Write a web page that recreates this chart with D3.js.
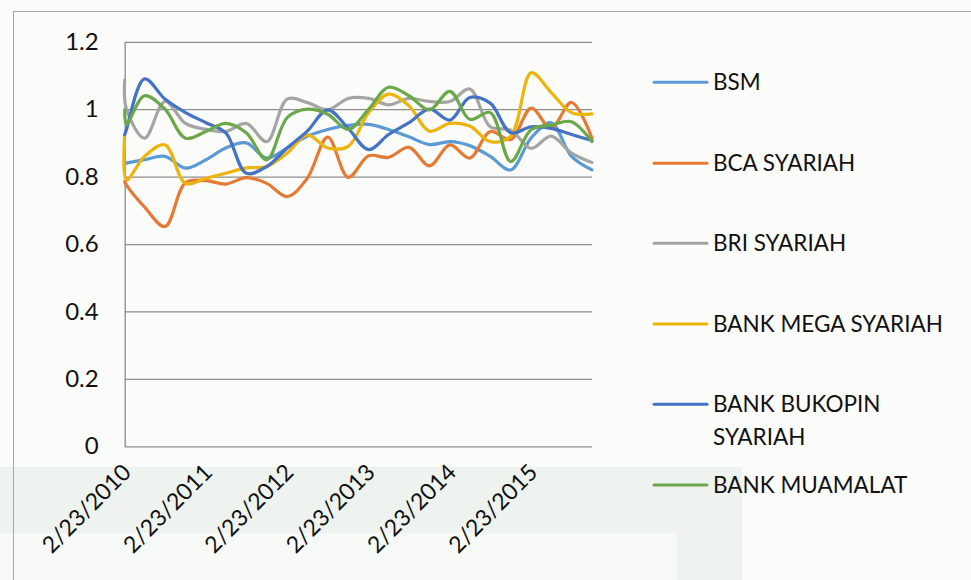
<!DOCTYPE html>
<html>
<head>
<meta charset="utf-8">
<script src="https://cdnjs.cloudflare.com/ajax/libs/d3/7.8.5/d3.min.js"></script>
<style>
  body { margin: 0; background: #fcfcfb; }
  svg { display: block; font-family: Lato, "Open Sans", sans-serif; }
  .tick text { fill: #111; }
</style>
</head>
<body>
<svg id="chart" width="971" height="580"></svg>
<script>
// quarterly observations (second point sits just after the first one)
var dates = ["2010-02-23","2010-03-03","2010-05-23","2010-08-23","2010-11-23",
  "2011-02-23","2011-05-23","2011-08-23","2011-11-23",
  "2012-02-23","2012-05-23","2012-08-23","2012-11-23",
  "2013-02-23","2013-05-23","2013-08-23","2013-11-23",
  "2014-02-23","2014-05-23","2014-08-23","2014-11-23",
  "2015-02-23","2015-05-23","2015-08-23","2015-11-23"];

var bsm      = [0.838,0.84,0.85,0.86,0.825,0.85,0.885,0.9,0.855,0.885,0.92,0.94,0.952,0.955,0.94,0.918,0.895,0.904,0.892,0.86,0.82,0.915,0.96,0.86,0.82];
var bca      = [0.785,0.775,0.71,0.652,0.782,0.788,0.778,0.797,0.78,0.741,0.795,0.917,0.798,0.862,0.857,0.887,0.832,0.894,0.855,0.934,0.91,1.003,0.944,1.02,0.914];
var bri      = [1.087,1.0,0.914,1.023,0.958,0.94,0.934,0.958,0.904,1.03,1.02,0.998,1.032,1.032,1.013,1.032,1.023,1.023,1.06,0.948,0.938,0.884,0.92,0.87,0.842];
var mega     = [0.924,0.79,0.86,0.894,0.78,0.795,0.81,0.826,0.83,0.87,0.924,0.885,0.89,0.99,1.045,1.01,0.935,0.958,0.95,0.904,0.92,1.108,1.05,0.99,0.986];
var bukopin  = [0.924,0.94,1.09,1.03,0.99,0.96,0.93,0.81,0.83,0.885,0.935,0.998,0.943,0.88,0.925,0.96,1.0,0.968,1.035,1.018,0.93,0.948,0.943,0.925,0.907];
var muamalat = [0.998,0.955,1.04,1.0,0.914,0.934,0.958,0.93,0.85,0.975,1.0,0.985,0.94,1.0,1.065,1.04,0.998,1.053,0.97,0.99,0.845,0.94,0.953,0.963,0.904];

var seriesNames  = ["BSM","BCA SYARIAH","BRI SYARIAH","BANK MEGA SYARIAH","BANK BUKOPIN SYARIAH","BANK MUAMALAT"];
var seriesValues = [bsm, bca, bri, mega, bukopin, muamalat];
var seriesColors = ["#5B9BD5","#E57A35","#A5A5A5","#EDB40C","#4472C4","#6AA84A"];
var yTicks = [0, 0.2, 0.4, 0.6, 0.8, 1, 1.2];
var xTickLabels = ["2010-02-23","2011-02-23","2012-02-23","2013-02-23","2014-02-23","2015-02-23"];

var parse = d3.timeParse("%Y-%m-%d");
var svg = d3.select("#chart");

// faint page watermark band + chart frame
svg.append("rect").attr("x", 0).attr("y", 467).attr("width", 742).attr("height", 113).attr("fill", "#eff3f0");
svg.append("rect").attr("x", 0).attr("y", 533).attr("width", 677).attr("height", 47).attr("fill", "#f8faf8");
svg.append("rect").attr("x", 13.5).attr("y", 11.5).attr("width", 1000).attr("height", 600)
  .attr("fill", "none").attr("stroke", "#a6a6a6").attr("stroke-width", 1);

var x = d3.scaleTime()
  .domain([parse(dates[0]), parse(dates[dates.length - 1])])
  .range([124.7, 592]);
var y = d3.scaleLinear().domain([0, 1.2]).range([446.3, 41.8]);

// gridlines
svg.append("g")
  .attr("transform", "translate(124.7,0)")
  .call(d3.axisRight(y).tickValues(yTicks).tickSize(592 - 124.7).tickFormat(""))
  .call(function(g) { g.select(".domain").remove(); })
  .selectAll("line").attr("stroke", "#8c8c8c").attr("stroke-width", 1.3);

// y axis
svg.append("g")
  .attr("transform", "translate(124.7,0)")
  .call(d3.axisLeft(y).tickValues(yTicks).tickSize(0).tickPadding(26).tickFormat(d3.format("")))
  .call(function(g) {
    g.select(".domain").attr("stroke", "#8c8c8c").attr("stroke-width", 1.3);
    g.selectAll("text").attr("font-size", 24).attr("font-family", "Lato");
  });

// x axis labels (rotated)
var fmt = d3.timeFormat("%-m/%-d/%Y");
svg.append("g").selectAll("text")
  .data(xTickLabels)
  .join("text")
  .attr("transform", function(d) { return "translate(" + (x(parse(d)) - 4) + ",462) rotate(-45)"; })
  .attr("text-anchor", "end")
  .attr("dy", "0.72em")
  .attr("font-size", 23)
  .attr("fill", "#111")
  .text(function(d) { return fmt(parse(d)); });

// lines
var line = d3.line()
  .x(function(d, i) { return x(parse(dates[i])); })
  .y(function(d) { return y(d); })
  .curve(d3.curveCatmullRom.alpha(0.5));

svg.append("g").selectAll("path")
  .data(seriesValues)
  .join("path")
  .attr("d", line)
  .attr("fill", "none")
  .attr("stroke", function(d, i) { return seriesColors[i]; })
  .attr("stroke-width", 3.2)
  .attr("stroke-linejoin", "round")
  .attr("stroke-linecap", "round");

// legend
var legendY = [82.3, 163.3, 243.3, 324, 404.3, 485];
var leg = svg.append("g").selectAll("g")
  .data(seriesNames)
  .join("g")
  .attr("transform", function(d, i) { return "translate(0," + legendY[i] + ")"; });
leg.append("line")
  .attr("x1", 654).attr("x2", 707)
  .attr("stroke", function(d, i) { return seriesColors[i]; })
  .attr("stroke-width", 3).attr("stroke-linecap", "round");
leg.append("text")
  .attr("x", 713).attr("dy", "0.35em")
  .attr("font-size", 22.5).attr("fill", "#111")
  .each(function(d) {
    var t = d3.select(this);
    if (d === "BANK BUKOPIN SYARIAH") {
      t.append("tspan").attr("x", 713).text("BANK BUKOPIN");
      t.append("tspan").attr("x", 713).attr("dy", 32.4).text("SYARIAH");
    } else {
      t.text(d);
    }
  });
</script>
</body>
</html>
